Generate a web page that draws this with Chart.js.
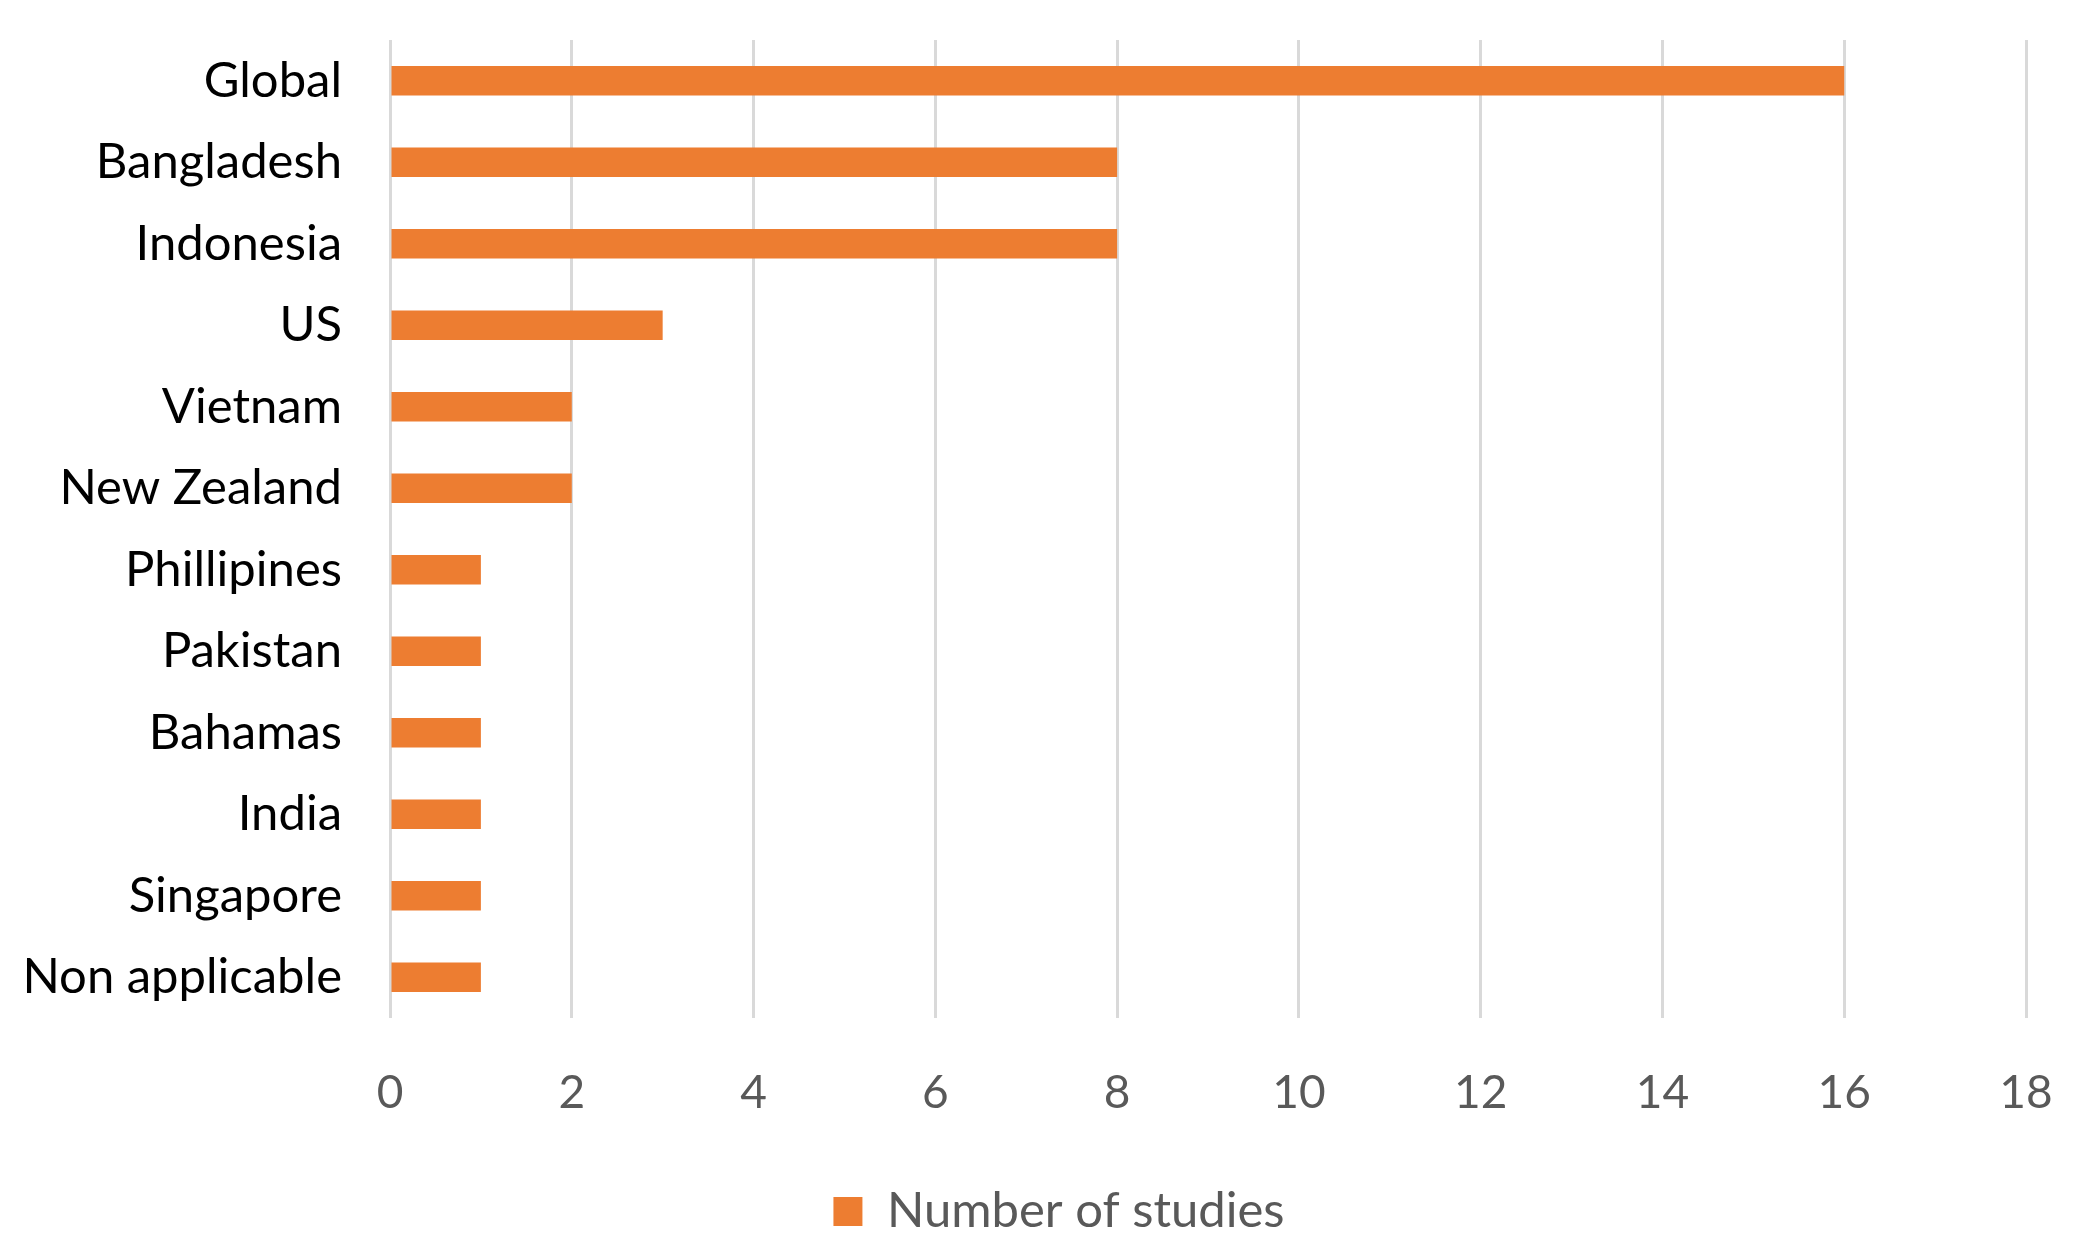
<!DOCTYPE html>
<html>
<head>
<meta charset="utf-8">
<script src="https://cdn.jsdelivr.net/npm/chart.js@4"></script>
<style>
  html, body { margin: 0; padding: 0; background: #fff; }
  #wrap { width: 2075px; height: 1254px; }
</style>
</head>
<body>
<div id="wrap"><canvas id="barChart"></canvas></div>
<script>
const countries = ["Global", "Bangladesh", "Indonesia", "US", "Vietnam", "New Zealand",
    "Phillipines", "Pakistan", "Bahamas", "India", "Singapore", "Non applicable"];
const studies = [16, 8, 8, 3, 2, 2, 1, 1, 1, 1, 1, 1];
const seriesName = "Number of studies";
const xMax = 18;

// nudge the legend a little to the right, like the original
const legendShift = {
    id: "legendShift",
    afterLayout(chart) {
        chart.legend.left += 46;
        chart.legend.right += 46;
    }
};

const bar = document.getElementById("barChart");
const barChart = new Chart(bar, {
    type: "bar",
    data: {
        labels: countries,
        datasets: [{
            label: seriesName,
            data: studies,
            backgroundColor: "#ED7D31",
            borderWidth: 0,
            categoryPercentage: 1,
            barPercentage: 0.36
        }]
    },
    options: {
        indexAxis: "y",
        responsive: true,
        maintainAspectRatio: false,
        animation: false,
        layout: {
            padding: { top: 40, right: 49, bottom: 8, left: 0 }
        },
        scales: {
            x: {
                min: 0,
                max: xMax,
                ticks: {
                    stepSize: 2,
                    color: "#595959",
                    font: { family: "Lato", size: 46 },
                    padding: 48
                },
                grid: { color: "#D9D9D9", lineWidth: 3, drawTicks: false },
                border: { display: false },
                afterFit: (scale) => {
                    scale.height = 159;
                    scale.paddingLeft = 0;
                    scale.paddingRight = 0;
                }
            },
            y: {
                ticks: {
                    color: "#000000",
                    font: { family: "Lato", size: 49 },
                    padding: 48
                },
                grid: { display: false, drawTicks: false },
                border: { display: false },
                afterFit: (scale) => {
                    scale.width = 390;
                    scale.paddingTop = 0;
                    scale.paddingBottom = 0;
                }
            }
        },
        plugins: {
            legend: {
                position: "bottom",
                labels: {
                    color: "#595959",
                    font: { family: "Lato", size: 49 },
                    boxWidth: 29,
                    boxHeight: 29,
                    padding: 10
                }
            },
            tooltip: { enabled: false }
        }
    },
    plugins: [legendShift]
});
</script>
</body>
</html>
